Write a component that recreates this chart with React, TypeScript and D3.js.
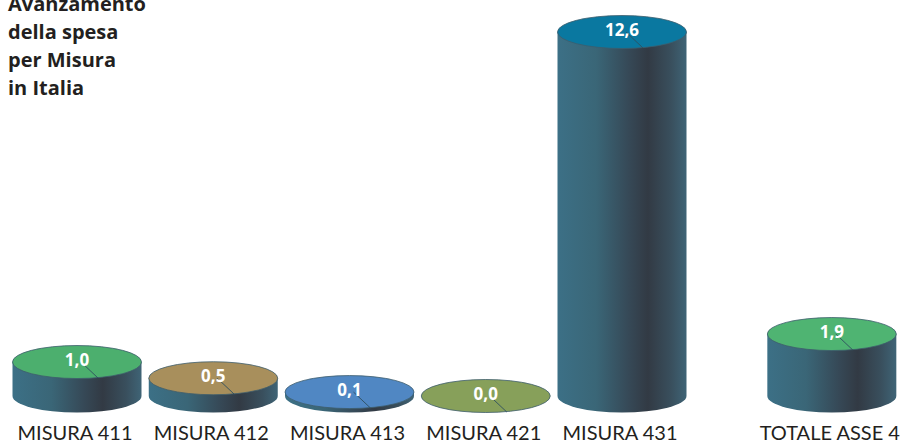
import React, { useEffect, useRef } from "react";
import * as d3 from "d3";

const categories = [
  "MISURA 411",
  "MISURA 412",
  "MISURA 413",
  "MISURA 421",
  "MISURA 431",
  "TOTALE ASSE 4",
];
const values = [1.0, 0.5, 0.1, 0.0, 12.6, 1.9];
const valueLabels = ["1,0", "0,5", "0,1", "0,0", "12,6", "1,9"];
const topColors = ["#4caf6e", "#a88f5c", "#5087c3", "#87a05a", "#0a78a0", "#4fb472"];
const titleLines = ["Avanzamento", "della spesa", "per Misura", "in Italia"];

const W = 904;
const H = 441;

const App: React.FC = () => {
  const ref = useRef<SVGSVGElement | null>(null);

  useEffect(() => {
    document.body.style.margin = "0";
    const svg = d3.select(ref.current);
    svg.selectAll("*").remove();

    const baseY = 396;
    const rx = 64.5;
    const ry = 16.5;

    // slot positions: total sits a bit further out
    const slots = categories.map((_, i) => (i < 5 ? i : i + 0.54));
    const x = d3.scaleLinear().domain([0, 4]).range([77, 622]);
    const h = d3.scalePow().exponent(0.936).domain([0, 12.6]).range([0, 364]);

    const defs = svg.append("defs");
    const grad = defs
      .append("linearGradient")
      .attr("id", "side")
      .attr("x1", "0")
      .attr("x2", "1")
      .attr("y1", "0")
      .attr("y2", "0");
    [
      [0, "#3c7086"],
      [0.3, "#3a6677"],
      [0.55, "#364957"],
      [0.7, "#323a44"],
      [0.88, "#394f5d"],
      [1, "#3f6476"],
    ].forEach(([o, c]) =>
      grad.append("stop").attr("offset", o as number).attr("stop-color", c as string)
    );

    // Title
    const title = svg
      .append("text")
      .style("font-family", "'Open Sans', Lato, sans-serif")
      .style("font-weight", 700)
      .style("font-size", "20px")
      .attr("fill", "#231f20");
    titleLines.forEach((t, i) => {
      title.append("tspan").attr("x", 8).attr("y", 11 + i * 28).text(t);
    });

    const g = svg.append("g");
    categories.forEach((cat, i) => {
      const cx = x(slots[i]);
      const top = baseY - h(values[i]);
      const cyl = g.append("g");

      if (values[i] > 0) {
        cyl
          .append("path")
          .attr(
            "d",
            `M${cx - rx},${top} L${cx - rx},${baseY} A${rx},${ry} 0 0 0 ${cx + rx},${baseY} L${cx + rx},${top} Z`
          )
          .attr("fill", "url(#side)");
      }

      cyl
        .append("ellipse")
        .attr("cx", cx)
        .attr("cy", top)
        .attr("rx", rx)
        .attr("ry", ry)
        .attr("fill", topColors[i])
        .attr("stroke", "#3d5d6c")
        .attr("stroke-width", 0.8);

      // leader line
      cyl
        .append("line")
        .attr("x1", cx + 4)
        .attr("y1", top)
        .attr("x2", cx + 21)
        .attr("y2", top + ry - 0.5)
        .attr("stroke", "#2f4f5f")
        .attr("stroke-width", 0.9);

      cyl
        .append("text")
        .attr("x", cx)
        .attr("y", top + 4)
        .attr("text-anchor", "middle")
        .style("font-family", "'Open Sans', Lato, sans-serif")
        .style("font-weight", 700)
        .style("font-size", "17px")
        .attr("fill", "#ffffff")
        .text(valueLabels[i]);

      g.append("text")
        .attr("x", cx - 2)
        .attr("y", 440)
        .attr("text-anchor", "middle")
        .style("font-family", "Lato, 'Open Sans', sans-serif")
        .style("font-size", "20px")
        .attr("fill", "#231f20")
        .text(cat);
    });
  }, []);

  return <svg ref={ref} width={W} height={H} style={{ display: "block" }} />;
};

export default App;
